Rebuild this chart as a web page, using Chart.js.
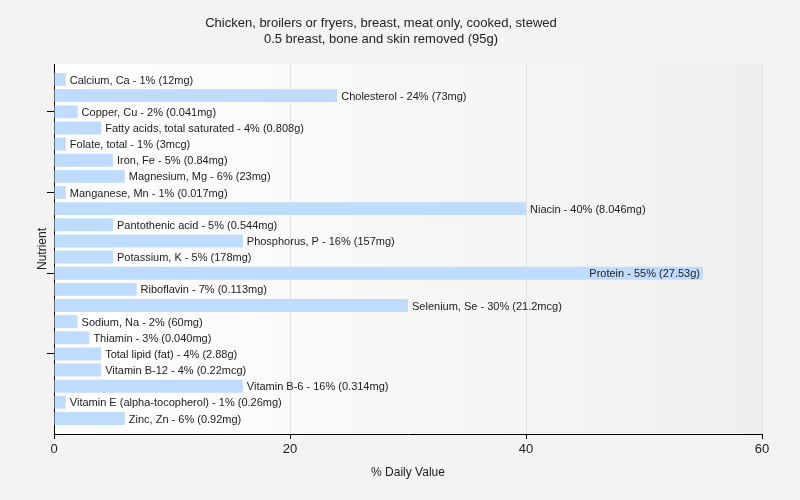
<!DOCTYPE html>
<html>
<head>
<meta charset="utf-8">
<script src="https://cdn.jsdelivr.net/npm/chart.js@4"></script>
<style>
  html, body { margin: 0; padding: 0; background: #f3f3f1; }
  #wrap { width: 800px; height: 500px; }
</style>
</head>
<body>
<div id="wrap"><canvas id="dv-chart" width="800" height="500"></canvas></div>
<script>
const TITLE_LINES = [
    'Chicken, broilers or fryers, breast, meat only, cooked, stewed',
    '0.5 breast, bone and skin removed (95g)'
];

const nutrients = [
    'Calcium, Ca', 'Cholesterol', 'Copper, Cu', 'Fatty acids, total saturated',
    'Folate, total', 'Iron, Fe', 'Magnesium, Mg', 'Manganese, Mn', 'Niacin',
    'Pantothenic acid', 'Phosphorus, P', 'Potassium, K', 'Protein', 'Riboflavin',
    'Selenium, Se', 'Sodium, Na', 'Thiamin', 'Total lipid (fat)', 'Vitamin B-12',
    'Vitamin B-6', 'Vitamin E (alpha-tocopherol)', 'Zinc, Zn'
];

const daily_pct = [1, 24, 2, 4, 1, 5, 6, 1, 40, 5, 16, 5, 55, 7, 30, 2, 3, 4, 4, 16, 1, 6];

const amounts = [
    '12mg', '73mg', '0.041mg', '0.808g', '3mcg', '0.84mg', '23mg', '0.017mg', '8.046mg',
    '0.544mg', '157mg', '178mg', '27.53g', '0.113mg', '21.2mcg', '60mg', '0.040mg',
    '2.88g', '0.22mcg', '0.314mg', '0.26mg', '0.92mg'
];

const x_ticks = [0, 20, 40, 60];

const LABEL_FONT = '11px "Liberation Sans"',
      TEXT_COLOR = '#222',
      Y_EDGE_PAD = 0.46;   // extra empty space above first / below last row, in rows

// plot background: white fading to grey on the right
const plotBackground = {
    id: 'plotBackground',
    beforeDraw: (chart) => {
        const { ctx, chartArea: a } = chart;
        const g = ctx.createLinearGradient(a.left, 0, a.right, 0);
        g.addColorStop(0, '#ffffff');
        g.addColorStop(1, '#efefed');
        ctx.save();
        ctx.fillStyle = g;
        ctx.fillRect(a.left, a.top, a.right - a.left, a.bottom - a.top);
        ctx.restore();
    }
};

// text next to every bar, moved inside the bar if it would run off the plot
const barLabels = {
    id: 'barLabels',
    afterDatasetsDraw: (chart) => {
        const { ctx, chartArea: a } = chart;
        const meta = chart.getDatasetMeta(0);
        ctx.save();
        ctx.font = LABEL_FONT;
        ctx.fillStyle = TEXT_COLOR;
        ctx.textBaseline = 'middle';
        meta.data.forEach((bar, i) => {
            const txt = nutrients[i] + ' - ' + daily_pct[i] + '% (' + amounts[i] + ')';
            const w = ctx.measureText(txt).width;
            if (bar.x + 4 + w > a.right) {
                ctx.textAlign = 'right';
                ctx.fillText(txt, bar.x - 3, bar.y + 1);
            } else {
                ctx.textAlign = 'left';
                ctx.fillText(txt, bar.x + 4, bar.y + 1);
            }
        });
        ctx.restore();
    }
};

new Chart(document.getElementById('dv-chart'), {
    type: 'bar',
    data: {
        labels: nutrients,
        datasets: [{
            data: daily_pct,
            backgroundColor: '#bfdcfe',
            borderWidth: 0,
            barPercentage: 0.8,
            categoryPercentage: 1.0
        }]
    },
    options: {
        indexAxis: 'y',
        responsive: false,
        animation: false,
        layout: { padding: { left: 0, right: 38, top: 0, bottom: 0 } },
        plugins: {
            legend: { display: false },
            tooltip: { enabled: false },
            title: {
                display: true,
                text: TITLE_LINES,
                color: TEXT_COLOR,
                font: { family: 'Liberation Sans', size: 13, weight: 'normal', lineHeight: 1.25 },
                padding: { top: 15, bottom: 16.5 }
            }
        },
        scales: {
            x: {
                min: 0,
                max: 60,
                afterBuildTicks: (s) => { s.ticks = x_ticks.map(v => ({ value: v })); },
                afterFit: (s) => { s.height = 66; },
                border: { color: '#000', width: 1 },
                grid: { color: '#e2e2e2', tickColor: '#000', tickLength: 5, drawTicks: true },
                ticks: {
                    color: TEXT_COLOR,
                    padding: 3,
                    font: { family: 'Liberation Sans', size: 13 }
                },
                title: {
                    display: true,
                    text: '% Daily Value',
                    color: TEXT_COLOR,
                    font: { family: 'Liberation Sans', size: 12 },
                    padding: { top: 0, bottom: 20 }
                }
            },
            y: {
                afterBuildTicks: (s) => {
                    // keep the row spacing of the original: a bit of air at both ends
                    s._startValue -= Y_EDGE_PAD;
                    s._valueRange += 2 * Y_EDGE_PAD;
                    s.ticks = s.ticks.filter(t => t.value % 5 === 2);
                },
                afterFit: (s) => { s.width = 54; },
                border: { color: '#000', width: 1 },
                grid: {
                    offset: false,
                    drawOnChartArea: false,
                    drawTicks: true,
                    tickLength: 7,
                    tickColor: '#000'
                },
                ticks: { display: false },
                title: {
                    display: true,
                    text: 'Nutrient',
                    color: TEXT_COLOR,
                    font: { family: 'Liberation Sans', size: 12 },
                    padding: { top: 35, bottom: 0 }
                }
            }
        }
    },
    plugins: [plotBackground, barLabels]
});
</script>
</body>
</html>
